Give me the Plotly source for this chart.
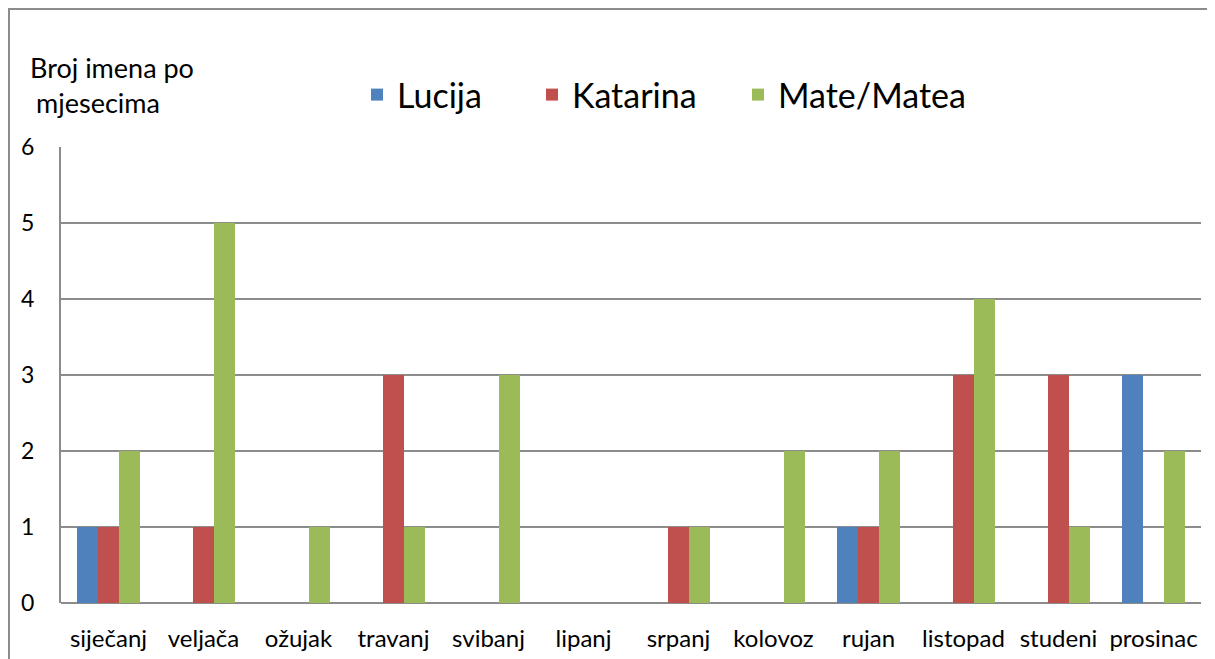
import plotly.graph_objects as go

months = ["siječanj", "veljača", "ožujak", "travanj", "svibanj", "lipanj",
          "srpanj", "kolovoz", "rujan", "listopad", "studeni", "prosinac"]
lucija = [1, 0, 0, 0, 0, 0, 0, 0, 1, 0, 0, 3]
katarina = [1, 1, 0, 3, 0, 0, 1, 0, 1, 3, 3, 0]
mate = [2, 5, 1, 1, 3, 0, 1, 2, 2, 4, 1, 2]

series = [("Lucija", lucija, "#4F81BD"),
          ("Katarina", katarina, "#C0504D"),
          ("Mate/Matea", mate, "#9BBB59")]

FONT = "Lato, Noto Sans, sans-serif"
GRID = "#8C8C8C"

# page body has an 8px margin; figure sized so it ends at the window edge
OFF = 8
W, H = 1215 - OFF, 659 - OFF
ml, mr, mt, mb = 53, 14, 139, 56
pw, ph = W - ml - mr, H - mt - mb

def px_x(p):
    return (p - OFF - ml) / pw

def px_y(p):
    return (H - mb - (p - OFF)) / ph

legend_ids = ["legend", "legend2", "legend3"]
legend_left = [357, 532, 738]

fig = go.Figure()
for (name, vals, color), lid in zip(series, legend_ids):
    fig.add_trace(go.Bar(x=months, y=vals, name=name, marker_color=color,
                         marker_line_width=0, legend=lid))

legend_common = dict(orientation="h", yanchor="top", xanchor="left",
                     font=dict(size=34, family=FONT), bgcolor="rgba(0,0,0,0)")

fig.update_layout(
    width=W, height=H,
    margin=dict(l=ml, r=mr, t=mt, b=mb, autoexpand=False),
    paper_bgcolor="white", plot_bgcolor="white",
    barmode="group", bargap=0.337, bargroupgap=0,
    font=dict(family=FONT, color="black", size=23),
    showlegend=True,
    legend=dict(x=px_x(legend_left[0]), y=px_y(66), **legend_common),
    legend2=dict(x=px_x(legend_left[1]), y=px_y(66), **legend_common),
    legend3=dict(x=px_x(legend_left[2]), y=px_y(66), **legend_common),
    xaxis=dict(showgrid=False, showline=False, ticks="",
               tickfont=dict(size=24), ticklabelstandoff=19),
    yaxis=dict(range=[0, 6], dtick=1, showgrid=True, gridcolor=GRID, gridwidth=2,
               showline=True, linecolor=GRID, linewidth=2, zeroline=True,
               zerolinecolor=GRID, zerolinewidth=2, ticks="",
               tickfont=dict(size=23), ticklabelstandoff=20),
)

# outer chart border
fig.add_shape(type="rect", xref="paper", yref="paper",
              x0=px_x(9), x1=px_x(1240), y0=px_y(700), y1=px_y(9),
              line=dict(color=GRID, width=2), fillcolor="rgba(0,0,0,0)", layer="below")

fig.add_annotation(text="Broj imena po", xref="paper", yref="paper",
                   x=px_x(28), y=px_y(68), xanchor="left", yanchor="middle",
                   showarrow=False, font=dict(size=27, family=FONT))
fig.add_annotation(text="mjesecima", xref="paper", yref="paper",
                   x=px_x(34), y=px_y(102), xanchor="left", yanchor="middle",
                   showarrow=False, font=dict(size=27, family=FONT))

fig.write_html("out.html")
